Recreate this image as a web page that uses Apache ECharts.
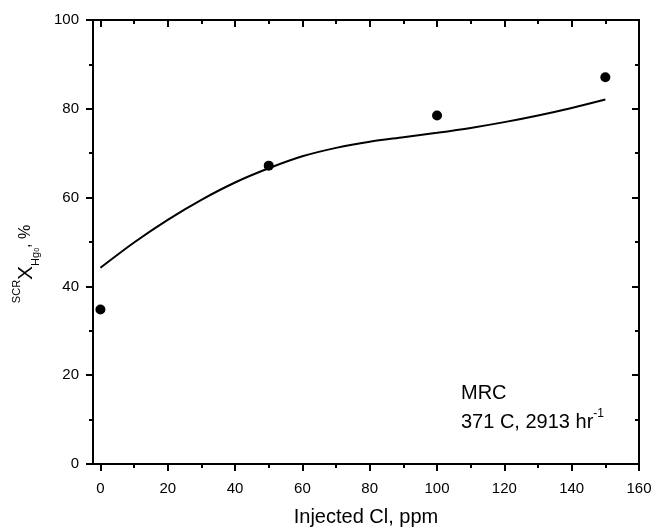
<!DOCTYPE html>
<html>
<head>
<meta charset="utf-8">
<script src="https://cdn.jsdelivr.net/npm/echarts@6/dist/echarts.min.js"></script>
<style>
  html, body { margin: 0; padding: 0; background: #fff; }
  #main { width: 654px; height: 529px; }
</style>
</head>
<body>
<div id="main"></div>
<script>
// measured points
var clPpm = [0, 50, 100, 150];
var conversion = [34.8, 67.2, 78.5, 87.1];
// fitted curve
var fitX = [0, 10, 20, 30, 40, 50, 60, 70, 80, 90, 100, 110, 120, 130, 140, 150];
var fitY = [44.2, 49.9, 55.0, 59.5, 63.4, 66.6, 69.3, 71.2, 72.6, 73.6, 74.6, 75.7, 77.0, 78.5, 80.2, 82.1];
var xMajor = [0, 20, 40, 60, 80, 100, 120, 140, 160];
var xMinor = [10, 30, 50, 70, 90, 110, 130, 150];

var myChart = echarts.init(document.getElementById('main'));

var axisLine = { show: true, onZero: false, lineStyle: { color: '#000', width: 2 } };
var font = 'Liberation Sans, Arial, sans-serif';

function xAx(pos, ticks, len, inside, labels) {
  return {
    type: 'value', position: pos, min: -2.2, max: 160,
    axisLine: axisLine,
    splitLine: { show: false },
    axisTick: { show: true, inside: inside, length: len, customValues: ticks,
      lineStyle: { color: '#000', width: 2 } },
    axisLabel: labels ? { show: true, customValues: xMajor, color: '#000', fontSize: 15,
      fontFamily: font, margin: 17 } : { show: false }
  };
}

var xAxes = [
  xAx('bottom', xMajor, 7, false, true),
  xAx('bottom', xMinor, 4, false, false),
  xAx('top', xMajor, 7, true, false),
  xAx('top', xMinor, 4, true, false)
];
xAxes[0].name = 'Injected Cl, ppm';
xAxes[0].nameLocation = 'middle';
xAxes[0].nameGap = 43;
xAxes[0].nameTextStyle = { color: '#000', fontSize: 20, fontFamily: font };

function yAx(pos, inside, labels) {
  return {
    type: 'value', position: pos, min: 0, max: 100, interval: 20,
    axisLine: axisLine,
    splitLine: { show: false },
    axisTick: { show: true, inside: inside, length: 7, lineStyle: { color: '#000', width: 2 } },
    minorTick: { show: true, splitNumber: 2, length: 4, lineStyle: { color: '#000', width: 2 } },
    axisLabel: labels ? { show: true, color: '#000', fontSize: 15, fontFamily: font, margin: 14 } : { show: false }
  };
}

var option = {
  animation: false,
  backgroundColor: '#fff',
  grid: { left: 93, right: 15, top: 20, bottom: 65, containLabel: false, outerBoundsMode: 'none' },
  xAxis: xAxes,
  yAxis: [yAx('left', false, true), yAx('right', true, false)],
  graphic: [
    {
      type: 'text', x: 26, y: 264, rotation: Math.PI / 2,
      style: {
        text: '{sup|SCR}{x|X}{sub|Hg}{sub0|0}{n|, %}',
        align: 'center', verticalAlign: 'middle', fill: '#000', fontFamily: font,
        rich: {
          sup: { fontSize: 11, fontFamily: font, verticalAlign: 'top', lineHeight: 24 },
          x: { fontSize: 21, fontFamily: font, verticalAlign: 'middle', lineHeight: 24 },
          sub: { fontSize: 11, fontFamily: font, verticalAlign: 'bottom', lineHeight: 24 },
          sub0: { fontSize: 7, fontFamily: font, verticalAlign: 'bottom', lineHeight: 30 },
          n: { fontSize: 16, fontFamily: font, verticalAlign: 'middle', lineHeight: 24 }
        }
      }
    },
    {
      type: 'text', left: 461, top: 383,
      style: { text: 'MRC', fontSize: 20, fontFamily: font, fill: '#000' }
    },
    {
      type: 'text', left: 461, top: 408,
      style: {
        text: '{m|371 C, 2913 hr}{s|-1}', fill: '#000',
        rich: {
          m: { fontSize: 20, fontFamily: font, verticalAlign: 'bottom', lineHeight: 24 },
          s: { fontSize: 12, fontFamily: font, verticalAlign: 'top', lineHeight: 24 }
        }
      }
    }
  ],
  series: [
    {
      type: 'line',
      data: fitX.map(function (x, i) { return [x, fitY[i]]; }),
      smooth: 0.3,
      showSymbol: false,
      symbol: 'none',
      lineStyle: { color: '#000', width: 2 },
      z: 2
    },
    {
      type: 'scatter',
      data: clPpm.map(function (x, i) { return [x, conversion[i]]; }),
      symbol: 'circle',
      symbolSize: 10,
      itemStyle: { color: '#000', opacity: 1 },
      z: 3
    }
  ]
};

myChart.setOption(option);
</script>
</body>
</html>
